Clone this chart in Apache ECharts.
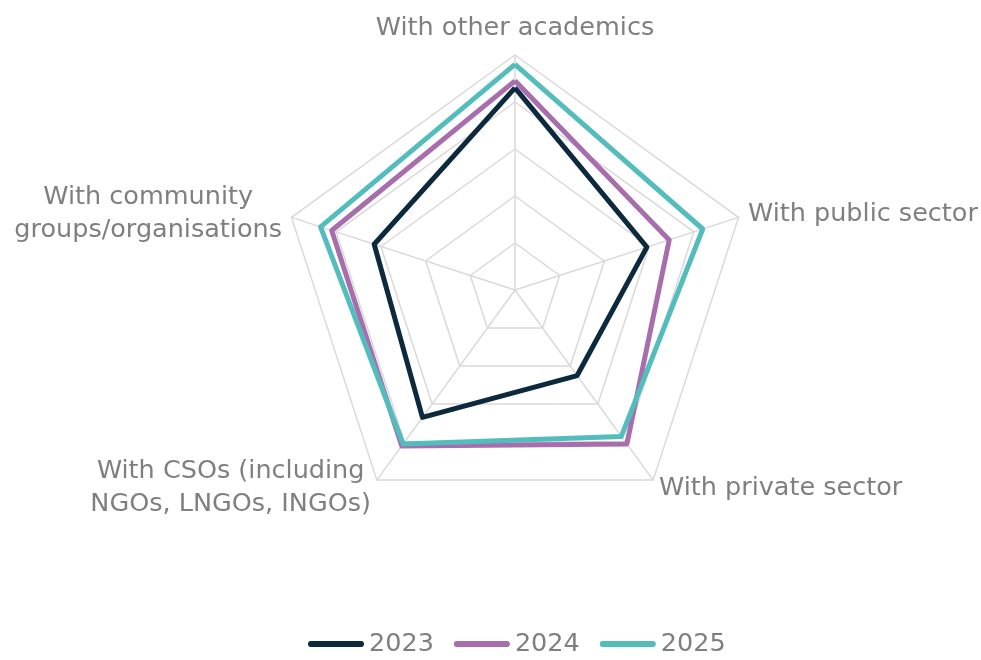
<!DOCTYPE html>
<html>
<head>
<meta charset="utf-8">
<script src="https://cdn.jsdelivr.net/npm/echarts@6/dist/echarts.min.js"></script>
<style>
  html, body { margin: 0; padding: 0; background: #ffffff; }
  #chart { width: 981px; height: 660px; }
</style>
</head>
<body>
<div id="chart"></div>
<script>
// Collaboration dimensions, listed in the order the radar places them (counter-clockwise from the top)
const indicators = [
  'With other academics',
  'With community\ngroups/organisations',
  'With CSOs (including\nNGOs, LNGOs, INGOs)',
  'With private sector',
  'With public sector'
];
const years = ['2023', '2024', '2025'];
const values2023 = [86, 63, 67, 45, 59];
const values2024 = [89, 82, 82, 81, 69];
const values2025 = [96, 87, 81, 77, 84];
const colors = ['#0c293d', '#a86dad', '#53bdbd'];

const FONT = "'DejaVu Sans', Verdana, sans-serif";
const chart = echarts.init(document.getElementById('chart'), null, { renderer: 'canvas' });

const seriesValues = [values2023, values2024, values2025];

chart.setOption({
  animation: false,
  color: colors,
  legend: {
    top: 626,
    left: 303,
    itemWidth: 56,
    itemHeight: 6,
    itemGap: 20,
    // capsule-shaped key, like a thick line with round ends
    icon: 'path://M3,0 H55 A3,3 0 0 1 55,6 H3 A3,3 0 0 1 3,0 Z',
    data: years,
    textStyle: { color: '#7f7f7f', fontSize: 25.5, fontFamily: FONT }
  },
  radar: {
    center: [515, 290],
    radius: 235,
    startAngle: 90,
    splitNumber: 5,
    shape: 'polygon',
    indicator: indicators.map(name => ({ name: name, min: 0, max: 100 })),
    axisName: {
      color: '#7f7f7f',
      fontSize: 25.5,
      fontFamily: FONT,
      lineHeight: 33,
      formatter: function (name) {
        return name.split('\n').map(l => '{c|' + l + '}').join('\n');
      },
      rich: {
        c: { align: 'center', color: '#7f7f7f', fontSize: 25.5, fontFamily: FONT, lineHeight: 33 }
      }
    },
    nameGap: 10,
    splitLine: { lineStyle: { color: '#d9d9d9', width: 1.5 } },
    axisLine: { lineStyle: { color: '#d9d9d9', width: 1.5 } },
    splitArea: { show: false },
    axisTick: { show: false },
    axisLabel: { show: false }
  },
  series: [{
    type: 'radar',
    symbol: 'none',
    data: years.map((y, i) => ({
      name: y,
      value: seriesValues[i],
      lineStyle: { color: colors[i], width: 5 },
      itemStyle: { color: colors[i] }
    }))
  }]
});
</script>
</body>
</html>
